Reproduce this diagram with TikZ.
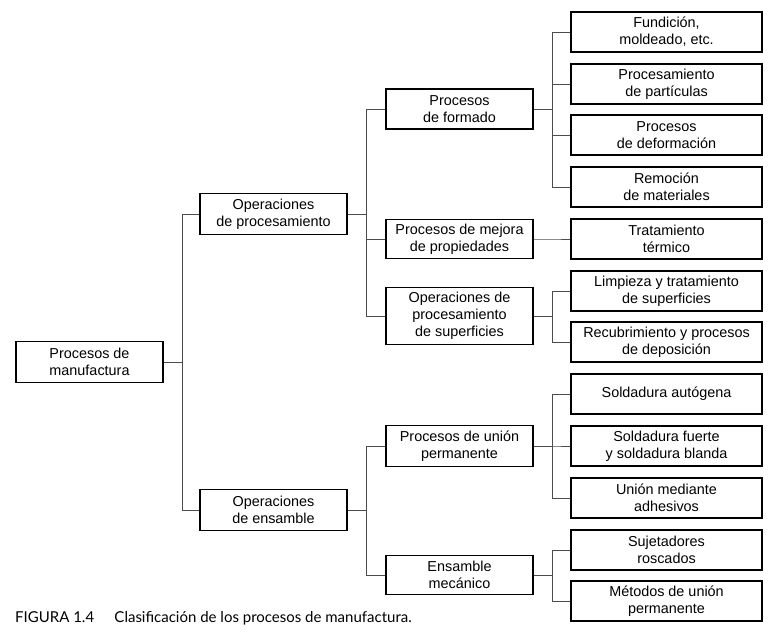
\documentclass[tikz,border=0pt]{standalone}
\usepackage{fontspec}
\setmainfont{Liberation Sans}
\newfontfamily\capfont{Lato}
\begin{document}
\begin{tikzpicture}[x=1pt,y=-1pt,
  box/.style={draw=black, line width=1.8pt, align=center, inner sep=0pt,
    font=\fontsize{14.4}{17}\selectfont},
  rootbox/.style={box, minimum width=147pt, minimum height=41pt},
  lvone/.style={box, minimum width=147pt, minimum height=41pt},
  lvtwo/.style={box, minimum width=147pt, minimum height=40pt},
  leaf/.style={box, minimum width=191pt, minimum height=40pt},
  link/.style={draw=black!70, line width=0.9pt},
  caption/.style={anchor=base west, inner sep=0pt, font=\capfont\fontsize{15}{17}\selectfont}]
\useasboundingbox (0,0) rectangle (776,640);

% root and first level
\node[rootbox] (root) at (89.5,362) {Procesos de\\manufactura};
\node[lvone] (proc) at (273.5,214) {Operaciones\\de procesamiento};
\node[lvone] (ens)  at (273.5,510) {Operaciones\\de ensamble};

% second level
\node[lvtwo] (form) at (459.5,109) {Procesos\\de formado};
\node[lvtwo, minimum height=39pt] (mejo) at (459.5,239) {Procesos de mejora\\de propiedades};
\node[lvtwo, minimum height=57pt] (supe) at (459.5,316) {Operaciones de\\procesamiento\\de superficies};
\node[lvtwo, minimum height=41pt] (unio) at (459.5,446) {Procesos de unión\\permanente};
\node[lvtwo, minimum height=39pt] (emec) at (459.5,575) {Ensamble\\mecánico};

% leaves
\node[leaf] (fund) at (666.5,32)  {Fundición,\\moldeado, etc.};
\node[leaf] (part) at (666.5,84)  {Procesamiento\\de partículas};
\node[leaf] (defo) at (666.5,135) {Procesos\\de deformación};
\node[leaf] (remo) at (666.5,187) {Remoción\\de materiales};
\node[leaf] (trat) at (666.5,239) {Tratamiento\\térmico};
\node[leaf] (limp) at (666.5,291) {Limpieza y tratamiento\\de superficies};
\node[leaf] (recu) at (666.5,342) {Recubrimiento y procesos\\de deposición};
\node[leaf] (saut) at (666.5,394) {Soldadura autógena};
\node[leaf] (sfue) at (666.5,446) {Soldadura fuerte\\y soldadura blanda};
\node[leaf] (adhe) at (666.5,498) {Unión mediante\\adhesivos};
\node[leaf] (suje) at (666.5,550) {Sujetadores\\roscados};
\node[leaf] (meto) at (666.5,601) {Métodos de unión\\permanente};

% bracket connectors: parent -> trunk -> child
\foreach \p/\c in {root/proc, root/ens,
                   proc/form, proc/mejo, proc/supe,
                   ens/unio, ens/emec,
                   form/fund, form/part, form/defo, form/remo,
                   mejo/trat,
                   supe/limp, supe/recu,
                   unio/saut, unio/sfue, unio/adhe,
                   emec/suje, emec/meto}
  \draw[link] (\p.east) -- ++(19,0) |- (\c.west);

\node[caption] (cap) at (15,622) {FIGURA 1.4\hspace{1.35em}Clasificación de los procesos de manufactura.};
\end{tikzpicture}
\end{document}
